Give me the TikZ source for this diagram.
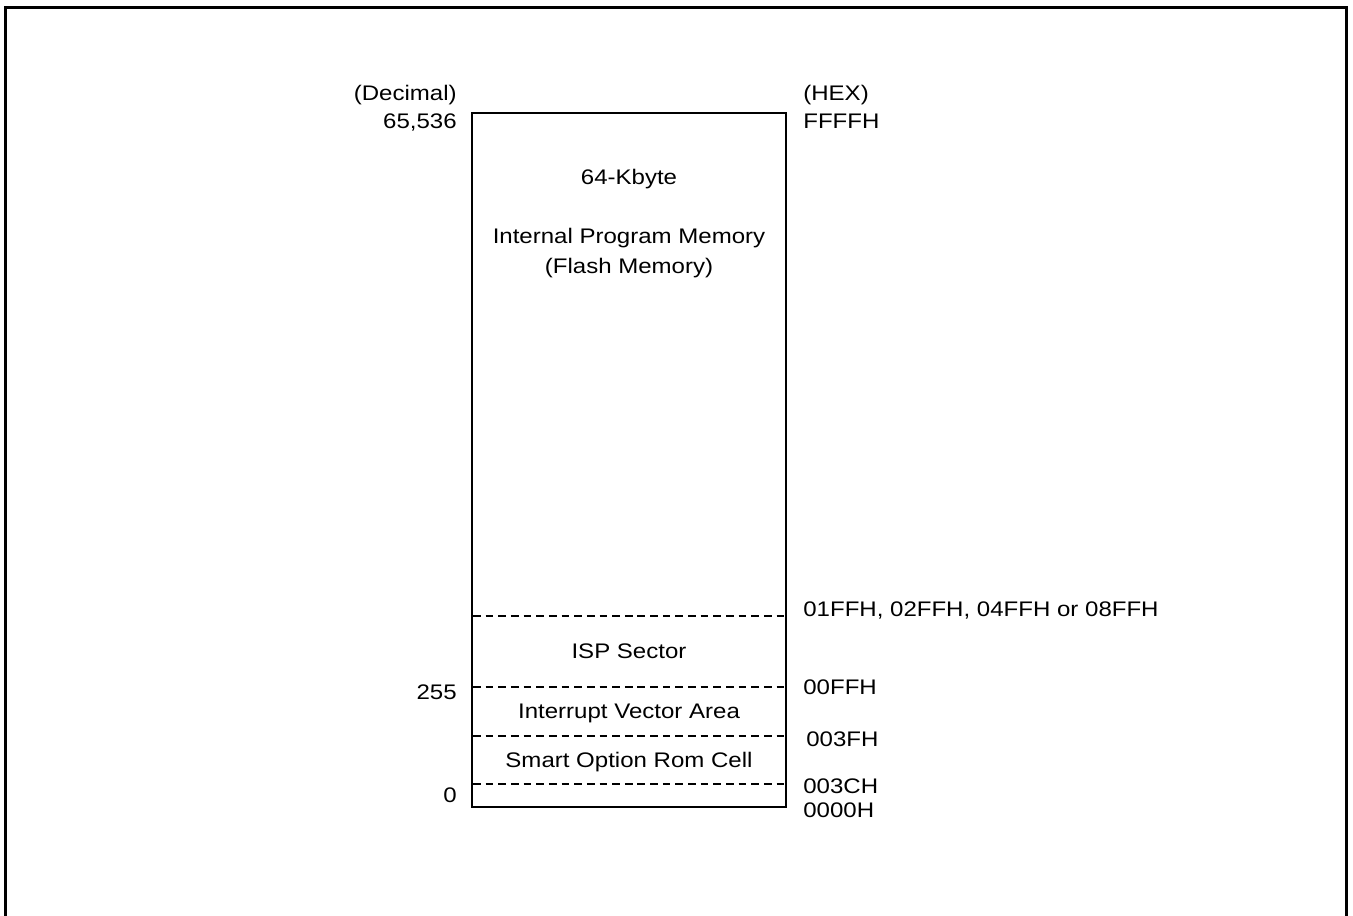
\documentclass[tikz,border=0pt]{standalone}
\usepackage{fontspec}
\setmainfont{Liberation Sans}[FakeStretch=1.14]
\begin{document}
\begin{tikzpicture}[x=0.02cm,y=-0.02cm,
  every node/.style={font=\fontsize{12}{14}\selectfont},
  txt/.style={inner sep=0pt,text height=8.6pt,text depth=0pt},
  bound/.style={dash pattern=on 4.4pt off 2.8pt,line width=0.8pt}]
\useasboundingbox (0,0) rectangle (1353,916);
\draw[line width=1.6pt] (5.3,916) -- (5.3,7.3) -- (1346.8,7.3) -- (1346.8,916);

\draw[line width=0.8pt] (472,113) rectangle (786,807);
\foreach \y/\n in {616/isp,687/ivt,736/opt,784/rom}{
  \coordinate (l-\n) at (473,\y);
  \coordinate (r-\n) at (786,\y);
  \draw[bound] (l-\n) -- (r-\n);
}

\node[txt] (kbyte) at (629,177) {64-Kbyte};
\node[txt] (ipm) at (629,236) {Internal Program Memory};
\node[txt] (flash) at (629,266) {(Flash Memory)};
\node[txt] (isp) at (629,651) {ISP Sector};
\node[txt] (ivt) at (629,711) {Interrupt Vector Area};
\node[txt] (opt) at (629,760) {Smart Option Rom Cell};

\node[txt,anchor=east] (dec) at (457,93) {(Decimal)};
\node[txt,anchor=east] (d-top) at (457,121) {65,536};
\node[txt,anchor=east] (d-ivt) at (457,692) {255};
\node[txt,anchor=east] (d-zero) at (457,795) {0};

\node[txt,anchor=west] (hex) at (803,93) {(HEX)};
\node[txt,anchor=west] (h-top) at (803,121) {FFFFH};
\node[txt,anchor=west] (h-isp) at (803,609) {01FFH, 02FFH, 04FFH or 08FFH};
\node[txt,anchor=west] (h-ivt) at (803,687) {00FFH};
\node[txt,anchor=west] (h-opt) at (806,739) {003FH};
\node[txt,anchor=west] (h-rom) at (803,786) {003CH};
\node[txt,anchor=west] (h-zero) at (803,810) {0000H};
\end{tikzpicture}
\end{document}
